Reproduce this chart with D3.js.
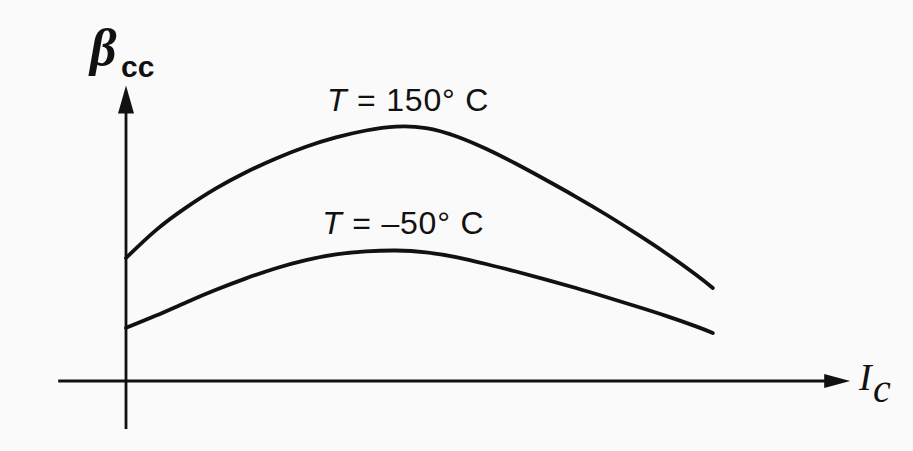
<!DOCTYPE html>
<html>
<head>
<meta charset="utf-8">
<script src="https://cdn.jsdelivr.net/npm/d3@7"></script>
<style>
  html, body { margin: 0; padding: 0; background: #fafafa; }
  svg { display: block; }
</style>
</head>
<body>
<svg id="chart" width="913" height="451"></svg>
<script>
// Collector current (arbitrary units) along the curves
const ic = [0, 5, 10, 15, 20, 25, 30, 35, 40, 45, 50, 55, 60, 65, 70, 75, 80, 85, 90, 95, 97.8];
// Current gain at T = 150 °C
const beta150 = [41, 50.3, 57.8, 64.2, 69.6, 74.2, 78.1, 81.2, 83.5, 84.8, 84.3, 81.6, 77.4, 72.4, 67.0, 61.4, 55.5, 49.2, 42.6, 35.4, 31];
// Current gain at T = -50 °C
const betaMinus50 = [17.7, 21.8, 26.2, 30.4, 34.2, 37.6, 40.3, 42.2, 43.2, 43.5, 42.9, 41.3, 39.0, 36.5, 33.8, 31.0, 28.0, 24.9, 21.7, 18.2, 16.0];
const seriesLabels = ["T = 150° C", "T = \u201350° C"];
const labelAt = [[33.5, 90], [32.7, 49]];

const svg = d3.select("#chart");
const x = d3.scaleLinear().domain([0, 100]).range([126, 726]);
const y = d3.scaleLinear().domain([0, 100]).range([381, 81]);

const ink = "#111";

// axes drawn as plain lines with arrowheads
svg.append("line").attr("x1", x(-11.3)).attr("x2", x(118)).attr("y1", y(0)).attr("y2", y(0))
  .attr("stroke", ink).attr("stroke-width", 2.8);
svg.append("line").attr("x1", x(0)).attr("x2", x(0)).attr("y1", y(-16)).attr("y2", y(91))
  .attr("stroke", ink).attr("stroke-width", 2.8);

// x arrowhead
const xt = x(120.7), yt = y(0);
svg.append("path").attr("d", `M${xt},${yt} L${xt - 26},${yt - 7} L${xt - 26},${yt + 7} Z`).attr("fill", ink);
// y arrowhead
const ax = x(0), ay = y(98.5);
svg.append("path").attr("d", `M${ax},${ay} L${ax - 8},${ay + 28} L${ax + 8},${ay + 28} Z`).attr("fill", ink);

const line = d3.line().x((d, i) => x(ic[i])).y(d => y(d)).curve(d3.curveNatural);

[beta150, betaMinus50].forEach((s, k) => {
  svg.append("path").attr("d", line(s)).attr("fill", "none")
    .attr("stroke", ink).attr("stroke-width", 3.8).attr("stroke-linecap", "round");
  const t = svg.append("text").attr("x", x(labelAt[k][0])).attr("y", y(labelAt[k][1]))
    .attr("font-family", "Liberation Sans, Arial, sans-serif").attr("font-size", 32)
    .attr("letter-spacing", 0.8).attr("fill", ink);
  const parts = seriesLabels[k].split(" = ");
  t.append("tspan").attr("font-style", "italic").text(parts[0]);
  t.append("tspan").text(" = " + parts[1]);
});

// axis titles
svg.append("text").attr("x", 90).attr("y", 65)
  .attr("font-family", "Liberation Serif, Times New Roman, serif")
  .attr("font-size", 52).attr("font-style", "italic").attr("font-weight", "bold").attr("fill", ink)
  .text("\u03B2");
svg.append("text").attr("x", 121).attr("y", 77)
  .attr("font-family", "Liberation Sans, Arial, sans-serif")
  .attr("font-size", 30).attr("font-weight", "bold").attr("fill", ink)
  .text("cc");

svg.append("text").attr("x", 859).attr("y", 390)
  .attr("font-family", "Liberation Serif, Times New Roman, serif").attr("font-style", "italic")
  .attr("font-size", 38).attr("fill", ink).text("I");
svg.append("text").attr("x", 873).attr("y", 402)
  .attr("font-family", "Liberation Serif, Times New Roman, serif").attr("font-style", "italic")
  .attr("font-size", 40).attr("fill", ink).text("c");
</script>
</body>
</html>
